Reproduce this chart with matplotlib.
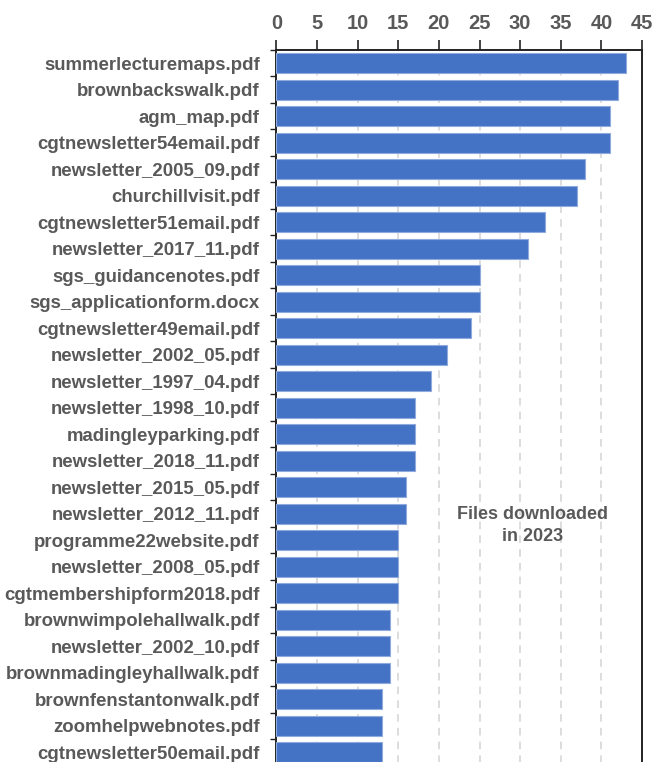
import matplotlib
matplotlib.use("Agg")
import matplotlib.pyplot as plt
from matplotlib import font_manager
from matplotlib.ticker import FixedLocator
import numpy as np

files = [
    "summerlecturemaps.pdf", "brownbackswalk.pdf", "agm_map.pdf",
    "cgtnewsletter54email.pdf", "newsletter_2005_09.pdf", "churchillvisit.pdf",
    "cgtnewsletter51email.pdf", "newsletter_2017_11.pdf", "sgs_guidancenotes.pdf",
    "sgs_applicationform.docx", "cgtnewsletter49email.pdf", "newsletter_2002_05.pdf",
    "newsletter_1997_04.pdf", "newsletter_1998_10.pdf", "madingleyparking.pdf",
    "newsletter_2018_11.pdf", "newsletter_2015_05.pdf", "newsletter_2012_11.pdf",
    "programme22website.pdf", "newsletter_2008_05.pdf", "cgtmembershipform2018.pdf",
    "brownwimpolehallwalk.pdf", "newsletter_2002_10.pdf", "brownmadingleyhallwalk.pdf",
    "brownfenstantonwalk.pdf", "zoomhelpwebnotes.pdf", "cgtnewsletter50email.pdf",
]
downloads = [43, 42, 41, 41, 38, 37, 33, 31, 25, 25, 24, 21, 19, 17, 17,
             17, 16, 16, 15, 15, 15, 14, 14, 14, 13, 13, 13]
x_ticks = [0, 5, 10, 15, 20, 25, 30, 35, 40, 45]

installed = {f.name for f in font_manager.fontManager.ttflist}
family = "Liberation Sans Narrow" if "Liberation Sans Narrow" in installed else "Liberation Sans"
plt.rcParams["font.family"] = [family, "DejaVu Sans"]

text_color = "#595959"
bar_color = "#4472C4"

fig = plt.figure(figsize=(6.52, 7.62), dpi=100)
ax = fig.add_axes([0.424, -0.0046, 0.5607, 0.939])

y = np.arange(len(files))
ax.barh(y, downloads, height=0.74, color=bar_color,
        edgecolor="#8FAADC", linewidth=0.8, zorder=3)

ax.set_xlim(0, 45)
ax.set_ylim(len(files) - 0.5, -0.5)

ax.xaxis.tick_top()
ax.xaxis.set_major_locator(FixedLocator(x_ticks))
ax.tick_params(axis="x", direction="out", length=7, width=1.2, color="#222222",
               labelsize=14.5, labelcolor=text_color, pad=5)
for lbl in ax.get_xticklabels():
    lbl.set_fontweight("bold")

ax.set_yticks(y)
ax.set_yticklabels(files, fontsize=13.4, fontweight="bold", color=text_color)
ax.tick_params(axis="y", which="major", length=0, pad=12)
ax.yaxis.set_minor_locator(FixedLocator(np.arange(len(files) + 1) - 0.5))
ax.tick_params(axis="y", which="minor", direction="out", length=4, width=1, color="#222222")

for xv in x_ticks[1:-1]:
    ax.axvline(xv, color="#D3D3D3", linestyle=(0, (5, 4)), linewidth=1.1, zorder=1)

for side in ["top", "left", "right"]:
    ax.spines[side].set_color("#222222")
    ax.spines[side].set_linewidth(1.4)
ax.spines["bottom"].set_visible(False)

ax.text(31.5, 17.45, "Files downloaded\nin 2023", ha="center", va="center",
        fontsize=13, fontweight="bold", color=text_color, linespacing=1.35, zorder=4)

fig.savefig("out.png", dpi=100)
